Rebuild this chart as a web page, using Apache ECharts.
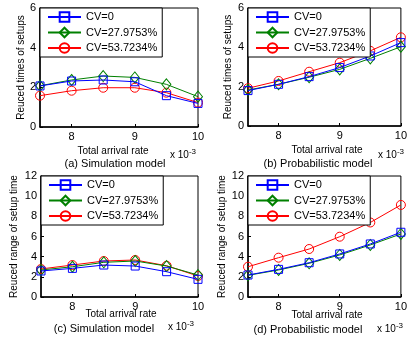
<!DOCTYPE html>
<html>
<head>
<meta charset="utf-8">
<script src="https://cdn.jsdelivr.net/npm/echarts@6/dist/echarts.min.js"></script>
<style>
  html, body { margin: 0; padding: 0; background: #fff; }
  #chart { width: 410px; height: 339px; }
</style>
</head>
<body>
<div id="chart"></div>
<script>
const FONT = 'Liberation Sans, Arial, sans-serif';

// arrival rate (x 10^-3)
const rates = [7.5, 8, 8.5, 9, 9.5, 10];
const rateTicks = [8, 9, 10];
const names = ['CV=0', 'CV=27.9753%', 'CV=53.7234%'];

// (a) simulation, reduced times of setups
const simTimesCv0 = [2.07, 2.32, 2.37, 2.28, 1.58, 1.19];
const simTimesCv28 = [2.08, 2.37, 2.57, 2.50, 2.15, 1.53];
const simTimesCv54 = [1.58, 1.83, 1.98, 1.98, 1.73, 1.23];
// (b) probabilistic, reduced times of setups
const probTimesCv0 = [1.80, 2.12, 2.51, 2.97, 3.56, 4.24];
const probTimesCv28 = [1.83, 2.12, 2.48, 2.88, 3.44, 4.03];
const probTimesCv54 = [1.92, 2.29, 2.76, 3.22, 3.82, 4.51];
// (c) simulation, reduced range of setup time
const simRangeCv0 = [2.58, 2.84, 3.17, 3.07, 2.51, 1.75];
const simRangeCv28 = [2.68, 3.00, 3.44, 3.57, 3.07, 2.18];
const simRangeCv54 = [2.78, 3.17, 3.57, 3.67, 3.10, 2.08];
// (d) probabilistic, reduced range of setup time
const probRangeCv0 = [2.18, 2.74, 3.40, 4.27, 5.26, 6.42];
const probRangeCv28 = [2.15, 2.68, 3.34, 4.17, 5.16, 6.25];
const probRangeCv54 = [3.00, 3.90, 4.76, 5.98, 7.39, 9.13];

const colors = ['#0000ff', '#008000', '#ff0000'];
const symbols = ['rect', 'diamond', 'circle'];
const symbolSizes = [8, [9, 11], 9];

const panels = [
  { grid: { left: 40, right: 212, top: 8, bottom: 212 }, max: 6, yName: 'Reuced times of setups', gap: 14,
    data: [simTimesCv0, simTimesCv28, simTimesCv54] },
  { grid: { left: 248, right: 5, top: 8, bottom: 213 }, max: 6, yName: 'Reuced times of setups', gap: 15,
    data: [probTimesCv0, probTimesCv28, probTimesCv54] },
  { grid: { left: 41, right: 212, top: 176, bottom: 42 }, max: 12, yName: 'Reuced range of setup time', gap: 22,
    data: [simRangeCv0, simRangeCv28, simRangeCv54] },
  { grid: { left: 248, right: 5, top: 176, bottom: 42 }, max: 12, yName: 'Reuced range of setup time', gap: 21,
    data: [probRangeCv0, probRangeCv28, probRangeCv54] },
];

// captions under each panel
const captions = [
  { text: 'Total arrival rate', x: 113, y: 151, size: 10 },
  { text: '(a) Simulation model', x: 115, y: 164, size: 11 },
  { text: 'Total arrival rate', x: 327, y: 150, size: 10 },
  { text: '(b) Probabilistic model', x: 318, y: 164, size: 11 },
  { text: 'Total arrival rate', x: 121, y: 314, size: 10 },
  { text: '(c) Simulation model', x: 104, y: 329, size: 11 },
  { text: 'Total arrival rate', x: 327, y: 315, size: 10 },
  { text: '(d) Probabilistic model', x: 308, y: 330, size: 11 },
];
const exponents = [
  { x: 170, y: 155 }, { x: 378, y: 155 }, { x: 168, y: 327 }, { x: 377, y: 329 },
];

const myChart = echarts.init(document.getElementById('chart'), null, { renderer: 'canvas' });

const grid = [];
const xAxis = [];
const yAxis = [];
const legend = [];
const series = [];

panels.forEach((p, i) => {
  grid.push(Object.assign({
    show: true,
    borderColor: '#000',
    borderWidth: 1,
    backgroundColor: '#fff',
  }, p.grid));

  xAxis.push({
    type: 'value',
    gridIndex: i,
    min: 7.5,
    max: 10,
    axisLine: { lineStyle: { color: '#000', width: 1.5 } },
    axisTick: { inside: true, length: 3, customValues: rateTicks, lineStyle: { color: '#000' } },
    axisLabel: { customValues: rateTicks, color: '#000', fontSize: 11, fontFamily: FONT, margin: 4 },
    splitLine: { show: false },
  });

  yAxis.push({
    type: 'value',
    gridIndex: i,
    min: 0,
    max: p.max,
    interval: 2,
    name: p.yName,
    nameLocation: 'middle',
    nameGap: p.gap,
    nameTextStyle: { color: '#000', fontSize: 10, fontFamily: FONT },
    axisLine: { show: true, lineStyle: { color: '#000', width: 1.5 } },
    axisTick: { show: true, inside: true, length: 3, lineStyle: { color: '#000' } },
    axisLabel: { color: '#000', fontSize: 11, fontFamily: FONT, margin: 4 },
    splitLine: { show: false },
  });

  legend.push({
    orient: 'vertical',
    left: p.grid.left,
    top: p.grid.top,
    data: names,
    backgroundColor: '#fff',
    borderColor: '#000',
    borderWidth: 1,
    borderRadius: 0,
    padding: [3, 5, 3, 7],
    itemGap: 3.5,
    itemWidth: 33,
    itemHeight: 12,
    selectedMode: false,
    textStyle: { color: '#000', fontSize: 11, fontFamily: FONT, lineHeight: 12 },
  });

  p.data.forEach((values, k) => {
    series.push({
      name: names[k],
      type: 'line',
      xAxisIndex: i,
      yAxisIndex: i,
      data: rates.map((r, j) => [r, values[j]]),
      symbol: symbols[k],
      symbolSize: symbolSizes[k],
      showAllSymbol: true,
      lineStyle: { color: colors[k], width: 1 },
      itemStyle: { color: 'rgba(0,0,0,0)', borderColor: colors[k], borderWidth: 1 },
      z: 3 - k,
      animation: false,
    });
  });
});

const graphic = [];
captions.forEach((c) => {
  graphic.push({
    type: 'text',
    x: c.x,
    y: c.y,
    style: {
      text: c.text,
      fill: '#000',
      font: c.size + 'px ' + FONT,
      align: 'center',
      verticalAlign: 'middle',
    },
  });
});
exponents.forEach((e) => {
  graphic.push({
    type: 'text',
    x: e.x,
    y: e.y,
    style: {
      text: 'x 10{sup|-3}',
      fill: '#000',
      font: '10px ' + FONT,
      verticalAlign: 'middle',
      rich: { sup: { fontSize: 8, fontFamily: FONT, verticalAlign: 'top', padding: [0, 0, 6, 0] } },
    },
  });
});

myChart.setOption({
  animation: false,
  backgroundColor: '#fff',
  grid,
  xAxis,
  yAxis,
  legend,
  series,
  graphic,
});
</script>
</body>
</html>
